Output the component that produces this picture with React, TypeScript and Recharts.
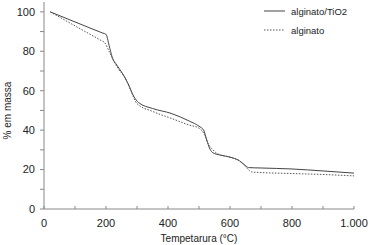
import { LineChart, Line, XAxis, YAxis, Label } from 'recharts';

// alginato/TiO2 (linha cheia)
const tempTiO2 = [20, 100, 190, 200, 210, 220, 235, 250, 270, 290, 305, 350, 410, 470, 500, 515, 525, 535, 545, 570, 600, 630, 648, 660, 700, 800, 900, 1000];
const massaTiO2 = [100, 94.9, 89.2, 88.6, 83, 77, 73, 69.5, 64, 57, 54, 51, 48.5, 44.5, 42, 40, 35, 30.5, 28.5, 27.3, 26.3, 24.5, 22.3, 21, 20.8, 20.3, 19.3, 18.2];

// alginato (tracejada)
const tempAlg = [20, 100, 185, 195, 210, 225, 240, 260, 280, 300, 350, 410, 470, 500, 515, 530, 545, 560, 600, 630, 650, 670, 700, 800, 900, 1000];
const massaAlg = [100, 92.9, 85.4, 84.5, 80, 75, 71, 67, 60, 53.5, 49.5, 46, 42.5, 41, 38.5, 33, 30, 28, 26.3, 24.5, 21.5, 18.8, 18.5, 18, 17.5, 16.8];

const xTicks = [0, 100, 200, 300, 400, 500, 600, 700, 800, 900, 1000];
const yTicks = [0, 10, 20, 30, 40, 50, 60, 70, 80, 90, 100];

const dataTiO2 = tempTiO2.map((t, i) => ({ t, m: massaTiO2[i] }));
const dataAlg = tempAlg.map((t, i) => ({ t, m: massaAlg[i] }));

const fmtX = (v: number) => (v === 1000 ? '1.000' : String(v));
const font = 'Liberation Sans, Arial';

function XTick(props: any) {
  const { x, y, payload } = props;
  const v = payload.value;
  return (
    <g>
      <line x1={x} x2={x} y1={y - 3} y2={y} stroke="#888" />
      {v % 200 === 0 && (
        <text x={x} y={y + 18} textAnchor="middle" fontSize={11} fill="#222" fontFamily={font}>
          {fmtX(v)}
        </text>
      )}
    </g>
  );
}

function LegendBox() {
  return (
    <svg width={110} height={40} style={{ position: 'absolute', left: 260, top: 0 }}>
      <line x1={4} x2={25} y1={11} y2={11} stroke="#444" />
      <text x={31} y={14.5} fontSize={9.5} fill="#222" fontFamily={font}>alginato/TiO2</text>
      <line x1={4} x2={25} y1={30} y2={30} stroke="#555" strokeDasharray="1.5 1.5" />
      <text x={31} y={33.5} fontSize={9.5} fill="#222" fontFamily={font}>alginato</text>
    </svg>
  );
}

export default function App() {
  return (
    <div style={{ position: 'absolute', left: 0, top: 0, width: 370, height: 245 }}>
      <LineChart width={370} height={245} margin={{ top: 2, right: 16, left: 0, bottom: 0 }}>
        <XAxis
          dataKey="t"
          type="number"
          domain={[0, 1000]}
          ticks={xTicks}
          interval={0}
          height={36}
          tickSize={0}
          tickMargin={0}
          tickLine={false}
          tick={<XTick />}
          stroke="#888"
        >
          <Label
            content={(p: any) => (
              <text x={p.viewBox.x + p.viewBox.width / 2} y={p.viewBox.y + 33} textAnchor="middle" fontSize={10} fill="#222" fontFamily={font}>
                Tempetarura (°C)
              </text>
            )}
          />
        </XAxis>
        <YAxis
          type="number"
          domain={[0, 105]}
          ticks={yTicks}
          interval={0}
          width={44}
          tickSize={4}
          tickMargin={5}
          stroke="#888"
          tickFormatter={(v: number) => (v % 20 === 0 ? String(v) : '')}
          tick={{ fontSize: 11, fill: '#222', fontFamily: font }}
        >
          <Label
            content={(p: any) => {
              const cx = 11;
              const cy = p.viewBox.y + p.viewBox.height / 2 + 5;
              return (
                <text x={cx} y={cy} transform={`rotate(-90, ${cx}, ${cy})`} textAnchor="middle" fontSize={10} fill="#222" fontFamily={font}>
                  % em massa
                </text>
              );
            }}
          />
        </YAxis>
        <Line data={dataTiO2} dataKey="m" name="alginato/TiO2" type="monotone" stroke="#444" strokeWidth={1} dot={false} isAnimationActive={false} />
        <Line data={dataAlg} dataKey="m" name="alginato" type="monotone" stroke="#555" strokeWidth={1} strokeDasharray="1.5 1.5" dot={false} isAnimationActive={false} />
      </LineChart>
      <LegendBox />
    </div>
  );
}
